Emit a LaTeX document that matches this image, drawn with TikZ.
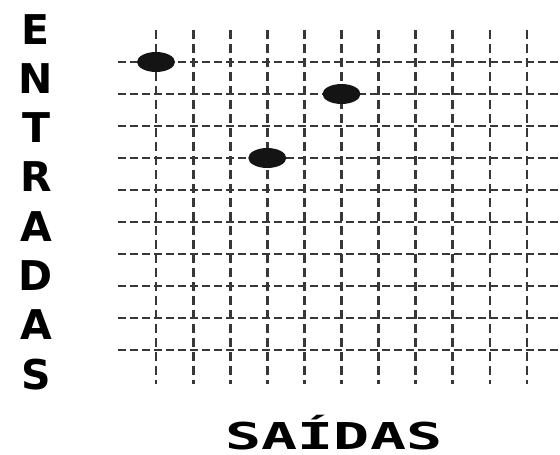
\documentclass[tikz,border=0pt]{standalone}
\usepackage{fontspec}
\usepackage{graphicx}
\usepackage{tikz}
\usetikzlibrary{shapes.geometric, positioning}
\newfontfamily\lblfont{DejaVu Sans}[BoldFont={DejaVu Sans Bold}]
\newfontfamily\axfont{DejaVu Sans Mono}[BoldFont={DejaVu Sans Mono Bold}]
\definecolor{GridDark}{RGB}{55,55,55}
\definecolor{DotBlack}{RGB}{20,20,20}

\begin{document}
\begin{tikzpicture}[x=1pt, y=-1pt]
        % Crossbar matrix (inputs x outputs)
        \tikzset{
          rowline/.style={GridDark, line width=2pt, dash pattern=on 8pt off 4pt},
          colline/.style={GridDark, line width=2.8pt, dash pattern=on 9pt off 5pt},
          link/.style={ellipse, fill=DotBlack, minimum width=38pt, minimum height=20pt, inner sep=0},
          entry/.style={font=\lblfont\bfseries\fontsize{41}{41}\selectfont, anchor=base, inner sep=0}
        }
        \useasboundingbox (0,0) rectangle (560,455);

        % Rows (entradas)
        \foreach \r in {0,...,9}
          \draw[rowline] (118, 62+32*\r) -- (560, 62+32*\r);

        % Columns (saidas)
        \foreach \c in {0,...,10}
          \draw[colline] (156+37.1*\c, 30) -- (156+37.1*\c, 384);

        % Closed crosspoints
        \node[link] (x00) at (156, 62) {};
        \node[link] (x15) at (341.5, 94) {};
        \node[link] (x33) at (267.3, 158) {};

        % Vertical label
        \foreach \ch [count=\i from 0] in {E,N,T,R,A,D,A,S}
          \node[entry] (in\i) at (36, 44+49.3*\i) {\ch};

        \node[font=\axfont\bfseries\fontsize{37}{37}\selectfont, anchor=base, inner sep=0] (out) at (334, 449) {\scalebox{1.62}[1]{SAÍDAS}};
      \end{tikzpicture}
\end{document}
